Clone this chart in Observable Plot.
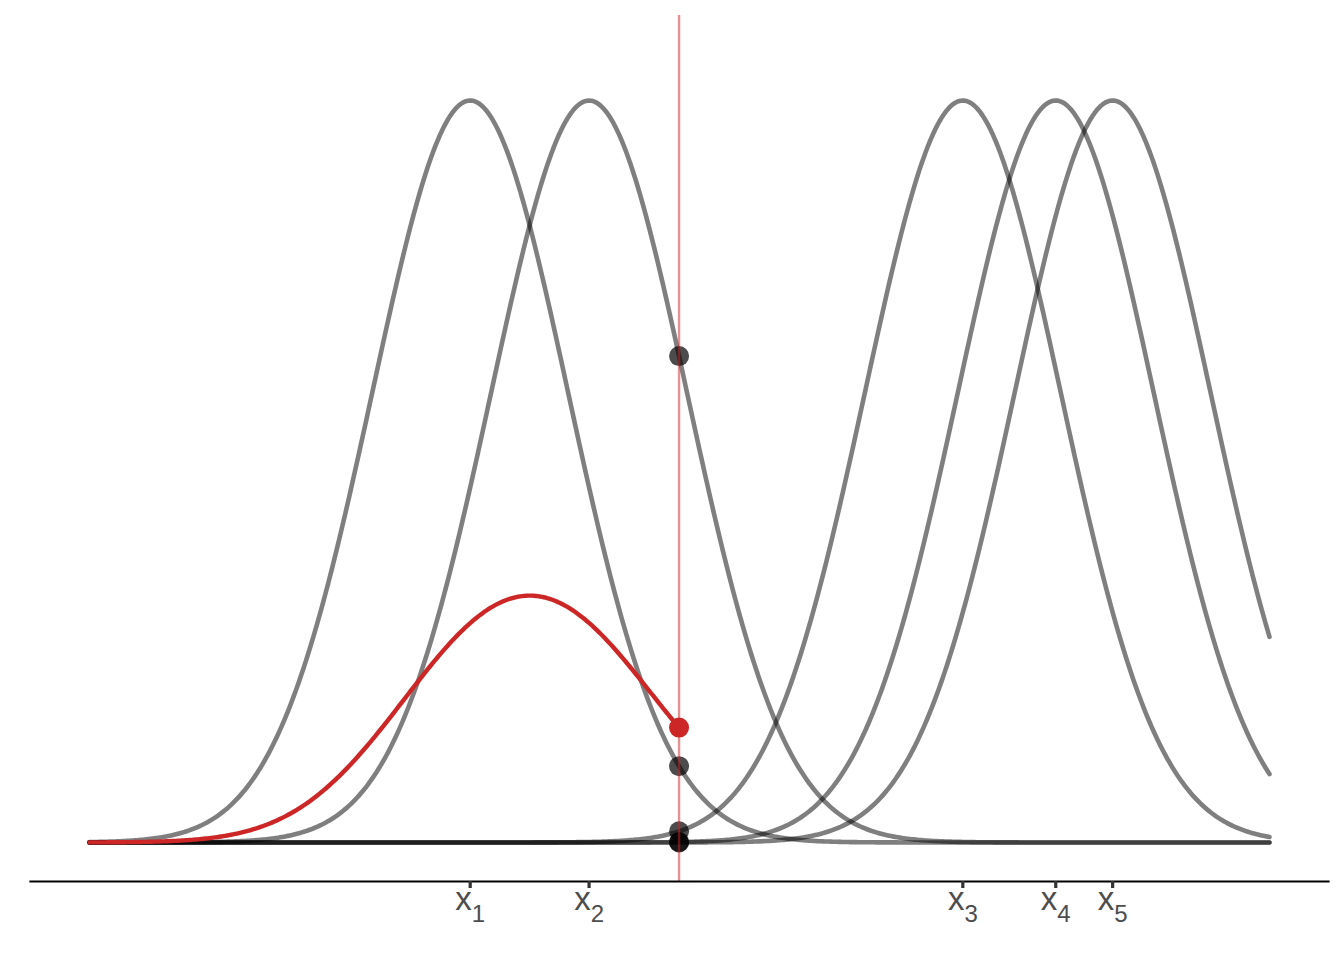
<!DOCTYPE html>
<html><head><meta charset="utf-8">
<script src="https://cdn.jsdelivr.net/npm/d3@7"></script>
<script src="https://cdn.jsdelivr.net/npm/@observablehq/plot@0.6"></script>
<style>body{margin:0;background:#fff;font-family:"Liberation Sans",Arial,sans-serif}</style>
</head><body><div id="chart"></div>
<script>
// sample positions (bandwidth units) and their subscript labels
const samples = [0, 1.214, 5.031, 5.980, 6.561];
const sampleLabels = ["1", "2", "3", "4", "5"];
const bandwidth = 1;
const gridRange = [-3.888, 8.163];
const evalPoint = 2.133;

const kernel = (x, m) => Math.exp(-((x - m) ** 2) / (2 * bandwidth ** 2));
const n = 600;
const grid = d3.range(n + 1).map(i => gridRange[0] + (gridRange[1] - gridRange[0]) * i / n);

const kernelData = samples.flatMap((m, k) => grid.map(x => ({k, x, y: kernel(x, m)})));
const kdeGrid = grid.filter(x => x < evalPoint).concat([evalPoint]);
const kdeData = kdeGrid.map(x => ({x, y: d3.mean(samples, m => kernel(x, m))}));
const pointData = samples.map(m => ({x: evalPoint, y: kernel(evalPoint, m)}));
const kdePoint = [{x: evalPoint, y: d3.mean(samples, m => kernel(evalPoint, m))}];

const span = gridRange[1] - gridRange[0];
const yMin = -0.0526;
const tickLen = 7 / 742;
const chart = Plot.plot({
  width: 1344, height: 960,
  marginLeft: 30, marginRight: 16, marginTop: 15, marginBottom: 79,
  style: {fontFamily: '"Liberation Sans", Arial, sans-serif', background: "#fff"},
  x: {domain: [gridRange[0] - 0.05 * span, gridRange[1] + 0.05 * span], axis: null},
  y: {domain: [yMin, 1.1146], axis: null},
  marks: [
    Plot.line(kernelData, {x: "x", y: "y", z: "k", stroke: "black", strokeOpacity: 0.5, strokeWidth: 4.6}),
    Plot.line(kdeData, {x: "x", y: "y", stroke: "#cd2626", strokeWidth: 4.4}),
    Plot.dot(pointData, {x: "x", y: "y", r: 10, fill: "black", fillOpacity: 0.7}),
    Plot.dot(kdePoint, {x: "x", y: "y", r: 10, fill: "#cd2626"}),
    Plot.ruleX([evalPoint], {stroke: "#cd2626", strokeOpacity: 0.5, strokeWidth: 2.4}),
    Plot.frame({anchor: "bottom", stroke: "black", strokeWidth: 2.2}),
    Plot.ruleX(samples, {x: d => d, y1: yMin, y2: yMin - tickLen, stroke: "#333", strokeWidth: 3.2, clip: false}),
    Plot.text(samples, {x: d => d, y: yMin, dy: 28, lineAnchor: "bottom", text: () => "x",
      fill: "#4d4d4d", fontSize: 33, textAnchor: "middle"})
  ]
});
document.getElementById("chart").appendChild(chart);

// subscript digits on the tick labels
let idx = 0;
d3.select(chart).selectAll("text").each(function() {
  const t = d3.select(this);
  if (t.text() === "x" && idx < sampleLabels.length) {
    t.style("font-size", "33px").style("font-family", '"Liberation Sans", Arial, sans-serif');
    t.append("tspan").style("font-size", "24px").attr("dy", 12).text(sampleLabels[idx++]);
  }
});
</script>
</body></html>
